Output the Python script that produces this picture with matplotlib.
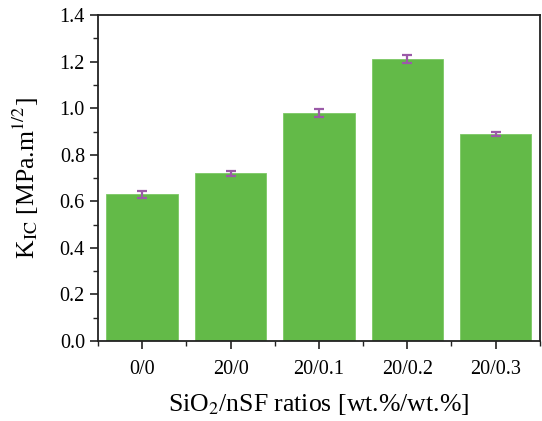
import matplotlib.pyplot as plt
from matplotlib.ticker import MultipleLocator

plt.rcParams['font.family'] = ['Liberation Serif', 'DejaVu Serif']
plt.rcParams['mathtext.fontset'] = 'stix'

categories = ["0/0", "20/0", "20/0.1", "20/0.2", "20/0.3"]
kic = [0.63, 0.72, 0.979, 1.212, 0.889]
kic_err = [0.016, 0.010, 0.018, 0.018, 0.010]

fig = plt.figure(figsize=(5.42, 4.21), dpi=100)
ax = fig.add_axes([0.181, 0.19, 0.815, 0.774])

x = range(len(categories))
ax.bar(x, kic, width=0.81, color="#63ba48", edgecolor="#7cc864", linewidth=0.6,
       yerr=kic_err, ecolor="#9b5aa8", capsize=3.5,
       error_kw=dict(elinewidth=1.6, capthick=1.6))

ax.set_xlim(-0.5, 4.5)
ax.set_ylim(0, 1.4)
ax.set_xticks(list(x))
ax.set_xticklabels(categories)
ax.xaxis.set_minor_locator(plt.FixedLocator([-0.5, 0.5, 1.5, 2.5, 3.5, 4.5]))
ax.yaxis.set_major_locator(MultipleLocator(0.2))
ax.yaxis.set_minor_locator(MultipleLocator(0.1))
ax.yaxis.set_major_formatter(plt.FormatStrFormatter("%.1f"))

ax.tick_params(axis="both", which="major", direction="out", length=6, width=1.2,
               labelsize=14.5, color="#222222")
ax.tick_params(axis="both", which="minor", direction="out", length=3.5, width=1.0,
               color="#222222")
ax.tick_params(axis="x", which="major", pad=8)
for s in ax.spines.values():
    s.set_linewidth(1.3)
    s.set_color("#222222")

ax.set_xlabel(r"SiO$_2$/nSF ratios [wt.%/wt.%]", fontsize=18.5, labelpad=9)
ax.set_ylabel(r"K$_{\rm IC}$ [MPa.m$^{1/2}$]", fontsize=18.5, labelpad=13)

fig.savefig("out.png", dpi=100)
